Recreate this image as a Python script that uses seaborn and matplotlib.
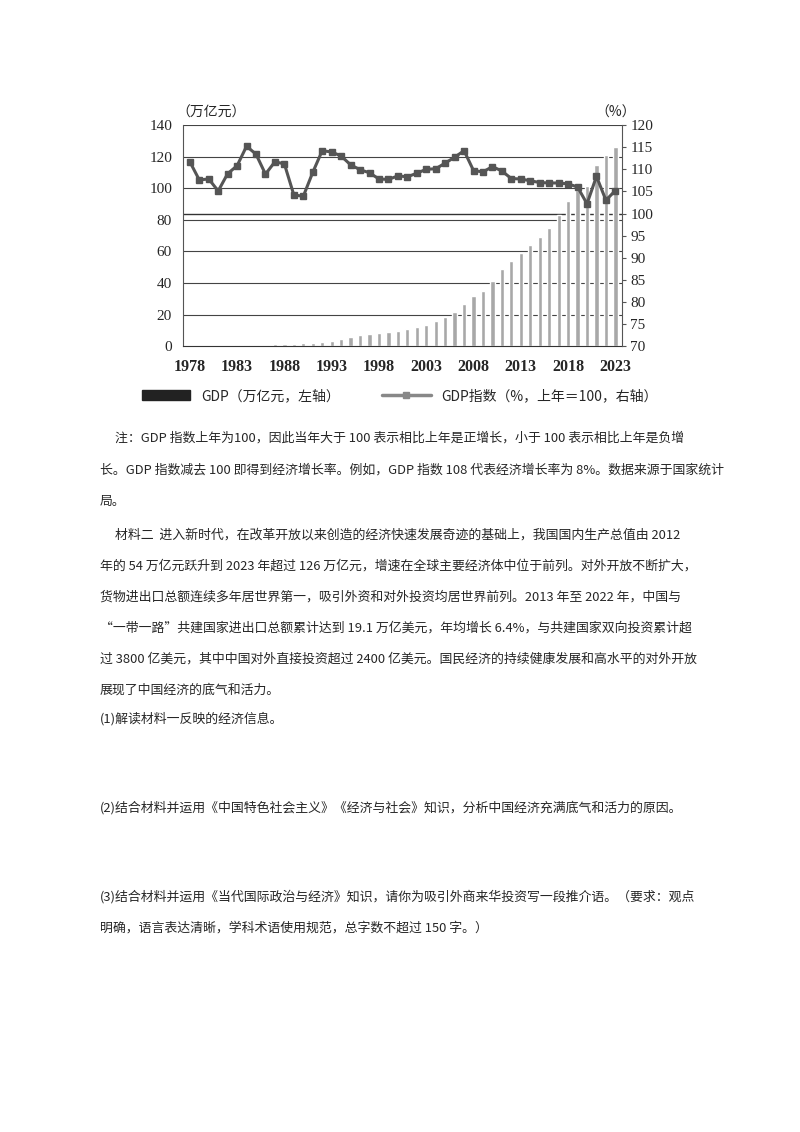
import numpy as np
import pandas as pd
import seaborn as sns
import matplotlib.pyplot as plt
from matplotlib.lines import Line2D
from matplotlib.patches import Patch

sns.set_style("white")
plt.rcParams['font.family'] = ['Noto Sans CJK SC', 'DejaVu Sans']

years = list(range(1978, 2024))
gdp = [0.37, 0.41, 0.46, 0.49, 0.54, 0.60, 0.73, 0.91, 1.04, 1.21, 1.51, 1.72,
       1.89, 2.22, 2.72, 3.57, 4.86, 6.13, 7.18, 7.97, 8.52, 9.06, 10.03, 11.09,
       12.17, 13.74, 16.18, 18.73, 21.94, 27.0, 31.9, 34.9, 41.2, 48.8, 53.9,
       59.3, 64.4, 68.9, 74.6, 83.2, 91.9, 98.7, 101.4, 114.9, 121.0, 126.1]
gdp_index = [111.7, 107.6, 107.8, 105.1, 109.0, 110.8, 115.2, 113.4, 108.9, 111.7,
             111.2, 104.2, 103.9, 109.3, 114.2, 113.9, 113.0, 111.0, 109.9, 109.2,
             107.8, 107.7, 108.5, 108.3, 109.1, 110.0, 110.1, 111.4, 112.7, 114.2,
             109.7, 109.4, 110.6, 109.6, 107.9, 107.8, 107.4, 107.0, 106.9, 106.9,
             106.7, 106.0, 102.2, 108.4, 103.0, 105.2]
df = pd.DataFrame({'year': years, 'gdp': gdp, 'idx': gdp_index})

fig = plt.figure(figsize=(8, 11.32), dpi=100)
ax = fig.add_axes([0.229, 0.694, 0.5485, 0.1956])
sns.barplot(data=df, x='year', y='gdp', color='#a8a8a8', width=0.45, ax=ax)
ax.set_ylim(0, 140)
ax.set_yticks(range(0, 141, 20))
for v in range(20, 141, 20):
    ax.axhline(v, color='#444444', lw=0.8, zorder=0)
ax.axhline(84, color='#333333', lw=1.0, zorder=0)
ticks = list(range(0, 46, 5))
ax.set_xticks(ticks)
ax.set_xticklabels([str(years[i]) for i in ticks], family='Liberation Serif',
                   fontsize=11.5, fontweight='bold')
ax.set_xlim(-0.7, 45.7)
ax.set_xlabel('')
ax.set_ylabel('')
for lab in ax.get_yticklabels():
    lab.set_family('Liberation Serif'); lab.set_fontsize(11)
ax.tick_params(axis='y', length=0, pad=8)
ax.tick_params(axis='x', length=0, pad=9)
for s in ['top', 'right']:
    ax.spines[s].set_visible(False)
ax.spines['left'].set_color('#555555')
ax.spines['bottom'].set_color('#333333')

ax2 = ax.twinx()
ax2.plot(range(46), gdp_index, color='#555555', lw=2.2, marker='s', ms=4)
ax2.set_ylim(70, 120)
ax2.set_yticks(range(70, 121, 5))
for lab in ax2.get_yticklabels():
    lab.set_family('Liberation Serif'); lab.set_fontsize(11)
ax2.tick_params(axis='y', length=3, color='#555555', pad=3)
for s in ['top', 'left', 'bottom']:
    ax2.spines[s].set_visible(False)
ax2.spines['right'].set_color('#555555')
ax2.grid(False)

fig.text(176/800, 1 - 113/1132, '（万亿元）', fontsize=10, va='center')
fig.text(595/800, 1 - 113/1132, '（%）', fontsize=10, va='center')

handles = [Patch(color='#222222'),
           Line2D([0], [0], color='#888888', lw=2.5, marker='s', ms=4)]
fig.legend(handles, ['GDP（万亿元，左轴）', 'GDP指数（%，上年＝100，右轴）'],
           loc='center', bbox_to_anchor=(0.5, 1 - 396/1132), ncol=2, frameon=False,
           fontsize=10, handlelength=3.5, columnspacing=3)

lines = [
    (115, 438, '注：GDP 指数上年为100，因此当年大于 100 表示相比上年是正增长，小于 100 表示相比上年是负增'),
    (100, 470, '长。GDP 指数减去 100 即得到经济增长率。例如，GDP 指数 108 代表经济增长率为 8%。数据来源于国家统计'),
    (100, 502, '局。'),
    (115, 535, '材料二  进入新时代，在改革开放以来创造的经济快速发展奇迹的基础上，我国国内生产总值由 2012'),
    (100, 566, '年的 54 万亿元跃升到 2023 年超过 126 万亿元，增速在全球主要经济体中位于前列。对外开放不断扩大，'),
    (100, 597, '货物进出口总额连续多年居世界第一，吸引外资和对外投资均居世界前列。2013 年至 2022 年，中国与'),
    (100, 628, '“一带一路”共建国家进出口总额累计达到 19.1 万亿美元，年均增长 6.4%，与共建国家双向投资累计超'),
    (100, 659, '过 3800 亿美元，其中中国对外直接投资超过 2400 亿美元。国民经济的持续健康发展和高水平的对外开放'),
    (100, 690, '展现了中国经济的底气和活力。'),
    (100, 719, '(1)解读材料一反映的经济信息。'),
    (100, 808, '(2)结合材料并运用《中国特色社会主义》《经济与社会》知识，分析中国经济充满底气和活力的原因。'),
    (100, 897, '(3)结合材料并运用《当代国际政治与经济》知识，请你为吸引外商来华投资写一段推介语。（要求：观点'),
    (100, 928, '明确，语言表达清晰，学科术语使用规范，总字数不超过 150 字。）'),
]
for x, y, t in lines:
    fig.text(x/800, 1 - y/1132, t, fontsize=9.3, va='center')

fig.savefig('out.png', dpi=100)
